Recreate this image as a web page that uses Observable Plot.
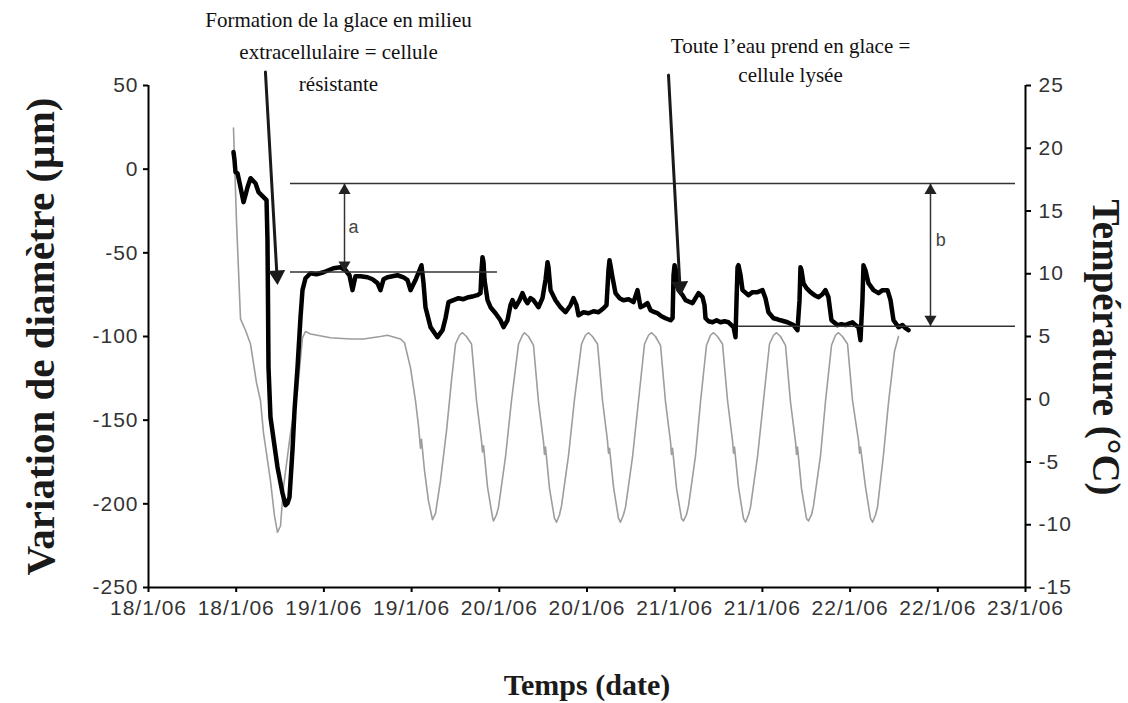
<!DOCTYPE html>
<html><head><meta charset="utf-8">
<script src="https://cdn.jsdelivr.net/npm/d3@7"></script>
<script src="https://cdn.jsdelivr.net/npm/@observablehq/plot@0.6"></script>
<style>
html,body{margin:0;padding:0;background:#fff;}
g[aria-label$="tick label"] text{letter-spacing:1px;}
</style>
</head><body><div id="chart"></div>
<script>
// ---- axes / ticks ----
const startDateMs = Date.UTC(2006, 0, 18);
const xTickHours = [0, 12, 24, 36, 48, 60, 72, 84, 96, 108, 120];
const xTickLabels = ["18/1/06","18/1/06","19/1/06","19/1/06","20/1/06","20/1/06","21/1/06","21/1/06","22/1/06","22/1/06","23/1/06"];
const leftTicks = [-250, -200, -150, -100, -50, 0, 50];
const rightTicks = [-15, -10, -5, 0, 5, 10, 15, 20, 25];

// ---- diameter variation (µm), hours since 18/1/06 00:00 ----
const diamHours = [11.63,11.77,11.90,12.18,12.59,13.00,13.27,13.55,13.96,14.37,14.64,15.05,15.74,16.15,16.28,16.35,16.42,16.69,17.65,18.34,18.75,19.02,19.29,19.70,19.98,20.39,20.80,21.07,21.48,22.17,22.99,23.95,24.63,25.31,26.27,26.96,27.50,27.91,28.32,29.01,29.97,30.65,31.33,31.74,32.16,32.70,34.07,34.89,35.44,35.85,36.53,37.08,37.35,37.63,37.90,38.59,39.54,40.23,40.64,41.05,41.73,42.42,43.10,43.79,44.47,45.02,45.43,45.57,45.70,45.84,45.98,46.39,46.80,47.48,48.16,48.58,49.12,49.53,49.81,50.22,50.77,51.17,51.58,51.86,52.27,52.68,53.36,53.91,54.32,54.60,54.73,55.01,55.69,56.37,57.06,57.74,58.15,58.57,58.84,59.52,60.21,60.89,61.57,62.26,62.67,62.94,63.08,63.21,63.49,63.90,64.45,64.99,65.68,66.36,66.91,67.32,67.87,68.28,68.69,69.24,69.65,70.19,70.74,71.43,71.71,71.84,71.98,72.25,72.52,73.07,73.48,74.44,75.26,75.81,76.08,76.22,76.63,77.18,77.73,78.27,78.82,79.36,80.05,80.32,80.46,80.60,80.73,81.01,81.28,82.10,82.65,83.33,84.01,84.42,84.83,85.52,86.07,86.48,87.43,88.26,88.80,89.08,89.21,89.35,89.62,90.03,90.58,91.13,91.68,92.22,92.63,93.04,93.45,94.28,94.82,95.37,95.92,96.33,96.74,97.15,97.42,97.69,97.83,98.10,98.51,99.20,99.89,100.44,101.12,101.53,101.94,102.62,103.17,103.58,103.99];
const diamValues = [10.2,5.4,-1.8,-2.4,-10.8,-19.7,-15.5,-10.8,-5.4,-7.2,-8.4,-13.7,-16.7,-18.5,-42.4,-78.3,-118.4,-148.2,-178.1,-193.7,-200.8,-199.6,-196.1,-168.0,-144.1,-118.4,-88.5,-72.3,-65.2,-62.2,-62.8,-61.6,-60.4,-59.2,-58.6,-60.4,-63.4,-72.3,-64.0,-64.0,-64.6,-65.8,-68.1,-72.3,-65.8,-64.6,-63.4,-64.6,-66.3,-72.3,-66.3,-60.4,-57.4,-68.1,-82.5,-94.4,-100.4,-96.2,-89.1,-79.5,-78.3,-77.1,-77.7,-76.5,-75.9,-75.3,-74.1,-60.4,-52.6,-55.6,-66.3,-78.3,-82.5,-86.1,-90.3,-94.4,-90.3,-81.3,-78.3,-82.5,-78.3,-74.1,-78.3,-80.1,-77.1,-78.3,-82.5,-77.1,-66.3,-55.6,-58.6,-72.3,-78.3,-82.5,-85.5,-81.3,-77.1,-81.3,-87.3,-85.5,-86.1,-84.9,-85.5,-83.1,-81.3,-60.4,-54.4,-57.4,-64.6,-74.1,-77.1,-78.3,-77.7,-79.5,-72.3,-82.5,-81.3,-80.1,-84.3,-85.5,-86.1,-87.9,-89.1,-90.3,-89.1,-63.4,-57.4,-61.6,-72.3,-75.3,-78.3,-80.1,-74.1,-76.5,-81.3,-89.1,-90.9,-91.5,-90.3,-91.5,-90.9,-91.5,-94.4,-100.4,-78.3,-58.6,-57.4,-63.4,-72.3,-75.3,-73.5,-73.5,-72.3,-77.1,-85.5,-89.1,-89.7,-90.3,-91.5,-93.2,-96.2,-78.3,-58.6,-60.4,-68.1,-71.1,-73.5,-75.3,-76.5,-74.7,-72.3,-76.5,-90.3,-93.2,-92.6,-93.2,-92.1,-91.5,-93.2,-94.4,-102.2,-78.3,-57.4,-60.4,-68.1,-72.3,-74.1,-72.3,-72.3,-78.3,-90.3,-94.4,-93.2,-95.0,-96.2];

// ---- temperature (°C) ----
const tempHours = [11.63,12.04,12.59,13.27,13.96,14.78,15.32,15.74,16.69,17.24,17.65,18.06,18.47,19.43,20.39,21.07,21.48,22.17,24.90,27.64,29.42,31.74,32.70,34.48,35.03,35.85,36.53,36.94,37.22,37.35,37.77,38.31,38.86,39.27,39.95,40.78,41.46,42.01,42.55,
42.96,43.51,44.20,44.88,45.56,45.70,45.84,46.39,47.07,47.21,47.62,47.89,48.85,49.67,50.63,51.17,
51.45,52.00,52.68,53.36,54.05,54.18,54.32,54.87,55.55,55.83,56.24,56.51,57.47,58.29,59.25,59.79,
60.21,60.75,61.44,62.12,62.80,62.94,63.08,63.63,64.31,64.58,64.99,65.27,66.23,67.05,67.87,68.42,
68.83,69.37,70.06,70.74,71.43,71.56,71.70,72.25,72.93,73.20,73.61,73.89,74.85,75.53,76.35,76.90,
77.31,77.86,78.54,79.23,79.91,80.05,80.18,80.73,81.41,81.69,82.10,82.37,83.33,84.15,84.97,85.52,
85.93,86.48,87.16,87.84,88.53,88.67,88.80,89.35,90.03,90.31,90.72,90.99,91.95,92.63,93.46,94.00,
94.41,94.96,95.65,96.33,97.15,97.29,97.42,98.11,98.79,99.07,99.48,99.75,100.57,101.25,102.07,102.62];
const tempValues = [21.6,14.2,6.4,5.5,4.4,1.3,-0.1,-2.7,-6.5,-9.3,-10.6,-10.1,-7.0,-2.7,0.7,4.9,5.4,5.2,4.9,4.8,4.8,5.0,5.1,4.8,4.5,2.5,-0.1,-2.1,-3.9,-3.2,-5.7,-8.1,-9.6,-9.1,-6.5,-2.5,1.5,4.4,5.1,
5.3,5.0,4.4,-0.1,-3.3,-4.2,-3.7,-7.0,-9.4,-9.7,-9.2,-8.6,-4.6,-0.1,4.4,5.1,
5.3,5.0,4.3,-0.2,-3.4,-4.4,-3.8,-7.1,-9.5,-9.8,-9.2,-8.5,-4.5,0.0,4.4,5.1,
5.3,5.0,4.4,-0.1,-3.3,-4.3,-3.9,-7.0,-9.5,-9.8,-9.2,-8.6,-4.6,-0.1,4.4,5.1,
5.3,5.0,4.3,-0.2,-3.4,-4.4,-3.9,-7.1,-9.5,-9.7,-9.2,-8.5,-4.5,-0.2,4.3,5.1,
5.3,5.0,4.4,-0.1,-3.3,-4.3,-3.8,-7.0,-9.5,-9.8,-9.2,-8.6,-4.6,-0.1,4.4,5.1,
5.3,5.0,4.3,-0.2,-3.4,-4.4,-3.8,-7.1,-9.5,-9.7,-9.2,-8.5,-4.5,-0.2,4.3,5.1,
5.3,5.0,4.4,-0.1,-3.3,-4.3,-3.8,-7.0,-9.5,-9.8,-9.2,-8.6,-4.4,-0.3,3.8,5.0];

// ---- annotations ----
const refLineValues = [-8.6, -61.4, -93.8];
const refLineStartHours = [19.43, 19.43, 80.73];
const refLineEndHours = [118.63, 47.75, 118.63];
const measureHours = [26.82, 107.0];
const measureTop = [-8.6, -8.6];
const measureBottom = [-61.4, -93.8];
const measureLabels = ["a", "b"];
const measureLabelHours = [28.05, 108.4];
const measureLabelValues = [-34.7, -42.4];
const calloutTexts = ["Formation de la glace en milieu\nextracellulaire = cellule\nrésistante", "Toute l\u2019eau prend en glace =\ncellule lysée"];
const calloutTextHours = [26.0, 87.85];
const calloutStartHours = [16.0, 71.15];
const calloutStartValues = [58.0, 56.2];
const calloutTipHours = [17.65, 72.79];
const calloutTipValues = [-69.3, -75.9];
const calloutAngles = [176.8, 176.9];
const titleLeft = "Variation de diamètre (µm)";
const titleRight = "Température (°C)";
const titleBottom = "Temps (date)";

// ---- helpers ----
const toDate = h => new Date(startDateMs + h * 3600000);
const toLeft = t => (t + 15) * 7.5 - 250;        // temperature -> left axis units
const fromLeft = v => (v + 250) / 7.5 - 15;
const xLabelOf = new Map(xTickHours.map((h, i) => [+toDate(h), xTickLabels[i]]));

const diam = diamHours.map((h, i) => ({t: toDate(h), v: diamValues[i]}));
const temp = tempHours.map((h, i) => ({t: toDate(h), v: toLeft(tempValues[i])}));
const refLines = refLineValues.map((v, i) => ({v, t1: toDate(refLineStartHours[i]), t2: toDate(refLineEndHours[i])}));
const measures = measureHours.map((h, i) => ({t: toDate(h), top: measureTop[i], bottom: measureBottom[i], label: measureLabels[i], lt: toDate(measureLabelHours[i]), lv: measureLabelValues[i]}));
const callouts = calloutStartHours.map((h, i) => ({t1: toDate(h), v1: calloutStartValues[i], t2: toDate(calloutTipHours[i]), v2: calloutTipValues[i], a: calloutAngles[i]}));

const serif = "'Liberation Serif', 'Times New Roman', serif";
const sans = "'Liberation Sans', Arial, sans-serif";

const chart = Plot.plot({
  width: 1128, height: 703,
  marginLeft: 148, marginRight: 103, marginTop: 85, marginBottom: 116,
  style: {background: "#fff", fontFamily: sans, overflow: "visible"},
  x: {type: "utc", domain: [toDate(0), toDate(120)]},
  y: {domain: [-250, 50]},
  marks: [
    Plot.axisX(xTickHours.map(toDate), {tickFormat: d => xLabelOf.get(+d), tickSize: 5, tickPadding: 8, fontSize: 21, stroke: "#000", fill: "#333", strokeWidth: 2}),
    Plot.axisY(leftTicks, {anchor: "left", tickFormat: d => String(d), tickSize: 5, tickPadding: 5, fontSize: 21, stroke: "#000", fill: "#333", strokeWidth: 2}),
    Plot.axisY(rightTicks.map(toLeft), {anchor: "right", tickFormat: d => String(Math.round(fromLeft(d))), tickSize: 5, tickPadding: 8, fontSize: 21, stroke: "#000", fill: "#333", strokeWidth: 2}),
    Plot.ruleY([-250], {stroke: "#000", strokeWidth: 2}),
    Plot.ruleX([toDate(0), toDate(120)], {y1: -250, y2: 50, stroke: "#000", strokeWidth: 2}),
    Plot.line(temp, {x: "t", y: "v", stroke: "#9d9d9d", strokeWidth: 1.6}),
    Plot.line(diam, {x: "t", y: "v", stroke: "#000", strokeWidth: 4.5, strokeLinejoin: "round"}),
    Plot.ruleY(refLines, {y: "v", x1: "t1", x2: "t2", stroke: "#333", strokeWidth: 1.5}),
    Plot.ruleX(measures, {x: "t", y1: "top", y2: "bottom", stroke: "#333", strokeWidth: 1.5}),
    Plot.dot(measures, {x: "t", y: "top", symbol: "triangle", r: 4.5, fill: "#222", stroke: null, dy: 7}),
    Plot.dot(measures, {x: "t", y: "bottom", symbol: "triangle", r: 4.5, fill: "#222", stroke: null, rotate: 180, dy: -7}),
    Plot.text(measures, {x: "lt", y: "lv", text: "label", fontSize: 18, fill: "#444", fontFamily: sans}),
    Plot.arrow(callouts, {x1: "t1", y1: "v1", x2: "t2", y2: "v2", headLength: 0, insetEnd: 9, stroke: "#1a1a1a", strokeWidth: 3}),
    Plot.dot(callouts, {x: "t2", y: "v2", symbol: "triangle", r: 6.3, fill: "#1a1a1a", stroke: null, rotate: "a", dy: -9.8, dx: -0.5}),
    Plot.text([calloutTexts[0]], {x: () => toDate(calloutTextHours[0]), text: d => d, frameAnchor: "top", textAnchor: "middle", lineAnchor: "middle", dy: -37, lineHeight: 1.52, fontSize: 21, fontFamily: serif, fill: "#111"}),
    Plot.text([calloutTexts[1]], {x: () => toDate(calloutTextHours[1]), text: d => d, frameAnchor: "top", textAnchor: "middle", lineAnchor: "middle", dy: -27, lineHeight: 1.38, fontSize: 21, fontFamily: serif, fill: "#111"}),
    Plot.text([titleLeft], {text: d => d, frameAnchor: "left", textAnchor: "middle", lineAnchor: "middle", dx: -108, rotate: -90, fontSize: 41, fontWeight: "bold", fontFamily: serif, fill: "#1a1a1a"}),
    Plot.text([titleRight], {text: d => d, frameAnchor: "right", textAnchor: "middle", lineAnchor: "middle", dx: 80, dy: 11, rotate: 90, fontSize: 39, fontWeight: "bold", fontFamily: serif, fill: "#1a1a1a"}),
    Plot.text([titleBottom], {text: d => d, frameAnchor: "bottom", textAnchor: "middle", lineAnchor: "middle", dy: 98, fontSize: 30, fontWeight: "bold", fontFamily: serif, fill: "#1a1a1a"})
  ]
});
document.getElementById("chart").appendChild(chart);
</script>
</body></html>
